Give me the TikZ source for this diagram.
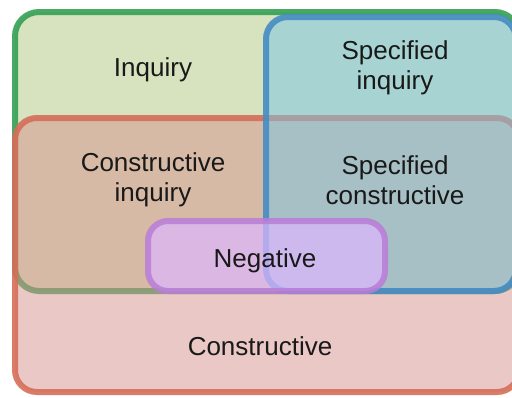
\documentclass[tikz,border=0pt]{standalone}
\usepackage{fontspec}
\setmainfont{Liberation Sans}
\definecolor{gfill}{RGB}{177,199,129}
\definecolor{gline}{RGB}{52,160,84}
\definecolor{rfill}{RGB}{215,147,141}
\definecolor{rline}{RGB}{214,110,88}
\definecolor{bfill}{RGB}{120,199,230}
\definecolor{bline}{RGB}{70,140,195}
\definecolor{pfill}{RGB}{222,183,255}
\definecolor{pline}{RGB}{185,125,215}
\tikzset{
  setbox/.style={rectangle, inner sep=0pt, outer sep=0pt, line width=6pt, draw opacity=0.9},
  lbl/.style={align=center, font=\fontsize{26}{30}\selectfont, text=black!90, inner sep=0pt}
}
\begin{document}
\begin{tikzpicture}[x=1pt,y=-1pt]
\useasboundingbox (0,0) rectangle (512,397);
\fill[white] (0,0) rectangle (512,397);
\node[setbox, rounded corners=24pt, draw=gline, fill=gfill, fill opacity=0.5, minimum width=504pt, minimum height=279pt] (inq) at (267,151.5) {};
\node[setbox, rounded corners=22pt, draw=rline, fill=rfill, fill opacity=0.5, minimum width=504pt, minimum height=274pt] (con) at (267,255) {};
\node[setbox, rounded corners=22pt, draw=bline, fill=bfill, fill opacity=0.5, minimum width=250pt, minimum height=274pt] (spe) at (391,154) {};
\node[setbox, rounded corners=20pt, draw=pline, fill=pfill, fill opacity=0.7, draw opacity=0.85, minimum width=237pt, minimum height=70pt] (neg) at (266.5,256) {};
\node[lbl] (tinq) at (153,70) {Inquiry};
\node[lbl] (tspi) at (395,68) {Specified\\inquiry};
\node[lbl] (tcoi) at (153,180) {Constructive\\inquiry};
\node[lbl] (tspc) at (395,180) {Specified\\constructive};
\node[lbl] (tneg) at (265,261) {Negative};
\node[lbl] (tcon) at (260,346) {Constructive};
\end{tikzpicture}
\end{document}
